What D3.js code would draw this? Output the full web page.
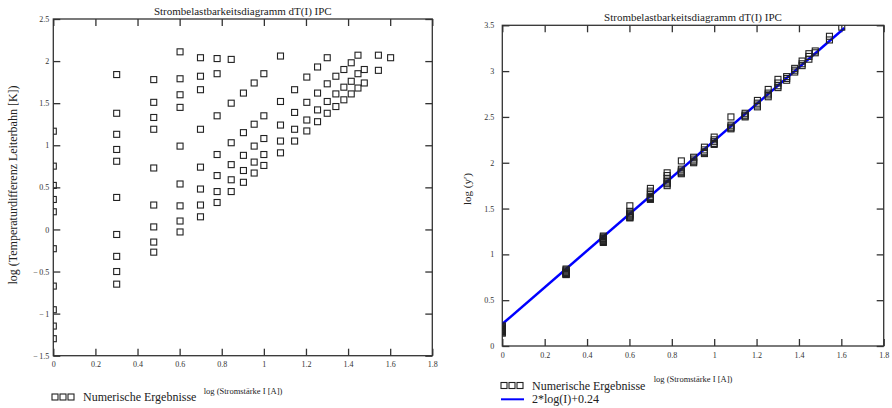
<!DOCTYPE html>
<html><head><meta charset="utf-8">
<script src="https://cdn.jsdelivr.net/npm/d3@7"></script>
<style>
html,body{margin:0;padding:0;background:#fff;}
svg{display:block;}
text{font-family:"Liberation Serif","Times New Roman",serif;}
</style></head>
<body>
<svg id="c" width="892" height="408"></svg>
<script>
// ---------- data ----------
const titleText = "Strombelastbarkeitsdiagramm dT(I) IPC";
const xLabelText = "log (Stromstärke I [A])";
const leftYLabel = "log (Temperaturdifferenz Leiterbahn [K])";
const rightYLabel = "log (y\u2032)";
const legendPoints = "Numerische Ergebnisse";
const legendLine = "2*log(I)+0.24";

// log of current values (x positions of the point columns)
const logI = [0, 0.301, 0.477, 0.602, 0.699, 0.778, 0.845, 0.903, 0.954, 1.0, 1.079,
  1.146, 1.204, 1.255, 1.301, 1.342, 1.380, 1.415, 1.447, 1.477, 1.544, 1.602];

// left chart: log(dT) per column
const leftValues = [
  [1.167, 0.752, 0.523, 0.356, 0.210, -0.229, -0.673, -0.954, -1.148, -1.298],
  [1.84, 1.38, 1.13, 0.95, 0.81, 0.38, -0.06, -0.32, -0.50, -0.65],
  [1.78, 1.51, 1.33, 1.19, 0.73, 0.29, 0.03, -0.15, -0.27],
  [2.11, 1.79, 1.60, 1.45, 0.99, 0.54, 0.28, 0.10, -0.03],
  [2.04, 1.82, 1.66, 1.19, 0.74, 0.48, 0.29, 0.15],
  [2.03, 1.85, 1.35, 0.89, 0.64, 0.45, 0.32],
  [2.02, 1.50, 1.03, 0.77, 0.59, 0.45],
  [1.62, 1.15, 0.88, 0.70, 0.56],
  [1.74, 1.25, 0.99, 0.80, 0.67],
  [1.85, 1.35, 1.08, 0.89, 0.76],
  [2.06, 1.52, 1.24, 1.05, 0.91],
  [1.66, 1.39, 1.19, 1.05],
  [1.81, 1.51, 1.30, 1.17],
  [1.93, 1.62, 1.42, 1.28],
  [2.04, 1.73, 1.52, 1.38],
  [1.82, 1.61, 1.46],
  [1.90, 1.69, 1.54],
  [1.98, 1.76, 1.61],
  [2.07, 1.85, 1.68],
  [1.90, 1.74],
  [2.07, 1.89],
  [2.04]
];

// right chart: log(y') per column
const rightValues = [
  [0.22, 0.21, 0.20, 0.19, 0.18, 0.17, 0.16, 0.16, 0.15, 0.14],
  [0.84, 0.83, 0.82, 0.81, 0.80, 0.80, 0.79, 0.79, 0.78, 0.78],
  [1.20, 1.19, 1.18, 1.17, 1.17, 1.16, 1.15, 1.14, 1.13],
  [1.53, 1.47, 1.45, 1.44, 1.43, 1.42, 1.41, 1.40, 1.40],
  [1.72, 1.69, 1.67, 1.65, 1.63, 1.62, 1.61, 1.60],
  [1.89, 1.86, 1.83, 1.80, 1.78, 1.77, 1.75],
  [2.02, 1.93, 1.91, 1.90, 1.89, 1.88],
  [2.06, 2.04, 2.02, 2.01, 2.00],
  [2.17, 2.14, 2.12, 2.11, 2.10],
  [2.28, 2.25, 2.23, 2.21, 2.20],
  [2.50, 2.41, 2.39, 2.38, 2.37],
  [2.54, 2.52, 2.51, 2.50],
  [2.68, 2.65, 2.63, 2.61],
  [2.80, 2.76, 2.74, 2.72],
  [2.91, 2.87, 2.84, 2.82],
  [2.94, 2.92, 2.90],
  [3.03, 3.01, 2.99],
  [3.11, 3.08, 3.06],
  [3.19, 3.16, 3.13],
  [3.22, 3.20],
  [3.38, 3.34],
  [3.48]
];

// fit line
const fitSlope = 2, fitIntercept = 0.24, fitXRange = [0, 1.615];

const xTicks = [0, 0.2, 0.4, 0.6, 0.8, 1, 1.2, 1.4, 1.6, 1.8];
const leftYTicks = [-1.5, -1, -0.5, 0, 0.5, 1, 1.5, 2, 2.5];
const rightYTicks = [0, 0.5, 1, 1.5, 2, 2.5, 3, 3.5];

// ---------- drawing ----------
const svg = d3.select("#c");
const fmt = v => v < 0 ? "\u2212\u2009" + Math.abs(v) : String(v);
const axisColor = "#333";
const markColor = "#222";

function flatten(vals) {
  const pts = [];
  vals.forEach((col, i) => col.forEach(v => pts.push({x: logI[i], y: v})));
  return pts;
}

function panel(opts) {
  const {id, x0, x1, yTop, yBot, yDomain, yTicks, values, yPad, xPad, titleY} = opts;
  const x = d3.scaleLinear().domain([0, 1.8]).range([x0, x1]);
  const y = d3.scaleLinear().domain(yDomain).range([yBot, yTop]);
  const g = svg.append("g");

  g.append("clipPath").attr("id", id).append("rect")
    .attr("x", x0).attr("y", yTop).attr("width", x1 - x0).attr("height", yBot - yTop);

  // title
  g.append("text").attr("x", (x0 + x1) / 2).attr("y", titleY)
    .attr("text-anchor", "middle").attr("font-size", 11).attr("fill", "#222").text(titleText);

  const tl = 7;
  const styleAxis = sel => {
    sel.select(".domain").remove();
    sel.selectAll(".tick line").attr("stroke", axisColor).attr("stroke-width", 1.3);
    sel.selectAll(".tick text").attr("font-family", "Liberation Serif, serif").attr("font-size", 8).attr("fill", "#333");
  };
  g.append("g").attr("transform", `translate(0,${yBot})`)
    .call(d3.axisBottom(x).tickValues(xTicks).tickFormat(fmt).tickSizeInner(-tl).tickSizeOuter(0).tickPadding(xPad))
    .call(styleAxis);
  g.append("g").attr("transform", `translate(0,${yTop})`)
    .call(d3.axisTop(x).tickValues(xTicks).tickFormat("").tickSizeInner(-tl).tickSizeOuter(0))
    .call(styleAxis);
  g.append("g").attr("transform", `translate(${x0},0)`)
    .call(d3.axisLeft(y).tickValues(yTicks).tickFormat(fmt).tickSizeInner(-tl).tickSizeOuter(0).tickPadding(yPad))
    .call(styleAxis);
  g.append("g").attr("transform", `translate(${x1},0)`)
    .call(d3.axisRight(y).tickValues(yTicks).tickFormat("").tickSizeInner(-tl).tickSizeOuter(0))
    .call(styleAxis);

  // frame
  g.append("rect").attr("x", x0).attr("y", yTop).attr("width", x1 - x0).attr("height", yBot - yTop)
    .attr("fill", "none").attr("stroke", axisColor).attr("stroke-width", 1.3);

  const plot = g.append("g").attr("clip-path", `url(#${id})`);
  return {x, y, g, plot};
}

function squares(plot, x, y, pts) {
  const s = 6;
  plot.selectAll("rect.pt").data(pts).enter().append("rect").attr("class", "pt")
    .attr("x", d => x(d.x) - s / 2).attr("y", d => y(d.y) - s / 2)
    .attr("width", s).attr("height", s)
    .attr("fill", "none").attr("stroke", markColor).attr("stroke-width", 1.1);
}

function legendSquares(g, lx, ly) {
  [0, 8, 16].forEach(dx => g.append("rect").attr("x", lx + dx).attr("y", ly - 3)
    .attr("width", 6).attr("height", 6).attr("fill", "none").attr("stroke", markColor).attr("stroke-width", 1.1));
}

// left panel
const L = panel({id: "clipL", x0: 53.3, x1: 432.3, yTop: 19, yBot: 355.7,
  yDomain: [-1.5, 2.5], yTicks: leftYTicks, values: leftValues, yPad: 4, xPad: 6, titleY: 15});
squares(L.plot, L.x, L.y, flatten(leftValues));
L.g.append("text").attr("transform", "translate(17,185) rotate(-90)")
  .attr("text-anchor", "middle").attr("font-size", 12).attr("fill", "#222").text(leftYLabel);
L.g.append("text").attr("x", 243).attr("y", 394).attr("text-anchor", "middle")
  .attr("font-size", 8.5).attr("fill", "#222").text(xLabelText);
legendSquares(L.g, 52, 397);
L.g.append("text").attr("x", 83).attr("y", 401).attr("font-size", 12).attr("fill", "#222").text(legendPoints);

// right panel
const R = panel({id: "clipR", x0: 502.3, x1: 883.7, yTop: 25.3, yBot: 346,
  yDomain: [0, 3.5], yTicks: rightYTicks, values: rightValues, yPad: 8, xPad: 6, titleY: 21});
const fitPts = fitXRange.map(v => ({x: v, y: fitSlope * v + fitIntercept}));
R.plot.append("path").datum(fitPts)
  .attr("d", d3.line().x(d => R.x(d.x)).y(d => R.y(d.y)))
  .attr("fill", "none").attr("stroke", "#0000ff").attr("stroke-width", 2.5);
squares(R.plot, R.x, R.y, flatten(rightValues));
R.g.append("text").attr("transform", "translate(471,189) rotate(-90)")
  .attr("text-anchor", "middle").attr("font-size", 11).attr("fill", "#222").text(rightYLabel);
R.g.append("text").attr("x", 693).attr("y", 382).attr("text-anchor", "middle")
  .attr("font-size", 8.5).attr("fill", "#222").text(xLabelText);
legendSquares(R.g, 501, 385.5);
R.g.append("text").attr("x", 532).attr("y", 390).attr("font-size", 12).attr("fill", "#222").text(legendPoints);
R.g.append("line").attr("x1", 501).attr("x2", 524).attr("y1", 399.3).attr("y2", 399.3)
  .attr("stroke", "#0000ff").attr("stroke-width", 2);
R.g.append("text").attr("x", 532).attr("y", 403).attr("font-size", 12).attr("fill", "#222").text(legendLine);
</script>
</body></html>
